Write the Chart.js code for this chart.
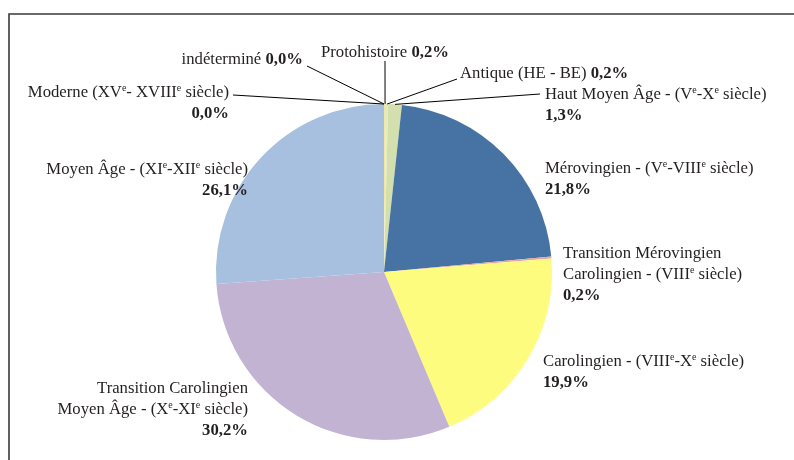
<!DOCTYPE html>
<html>
<head>
<meta charset="utf-8">
<script src="https://cdn.jsdelivr.net/npm/chart.js@4"></script>
<style>
  html, body { margin: 0; padding: 0; background: #fff; }
  #wrap { width: 794px; height: 460px; position: relative; }
</style>
</head>
<body>
<div id="wrap"><canvas id="pie"></canvas></div>
<script>
// {e} marks a superscript "e"
const categories = [
    'Protohistoire',
    'Antique (HE - BE)',
    'Haut Moyen Âge - (V{e}-X{e} siècle)',
    'Mérovingien - (V{e}-VIII{e} siècle)',
    'Transition Mérovingien Carolingien - (VIII{e} siècle)',
    'Carolingien - (VIII{e}-X{e} siècle)',
    'Transition Carolingien Moyen Âge - (X{e}-XI{e} siècle)',
    'Moyen Âge - (XI{e}-XII{e} siècle)',
    'Moderne (XV{e}- XVIII{e} siècle)',
    'indéterminé'
];
const values = [0.2, 0.2, 1.3, 21.8, 0.2, 19.9, 30.2, 26.1, 0.0, 0.0];
const colors = ['#f3e6a2', '#e2ebc4', '#d3dfac', '#4673a3', '#e8a4a4',
                '#fefc7f', '#c2b3d3', '#a7c0df', '#8aa8cc', '#d9d9d9'];

// label placement: anchor x, first baseline y, alignment, how the name wraps,
// whether the value sits on the same line, and where the leader line starts
const labelLayout = [
    { x: 385, y: 57,  align: 'center', lines: 1, inline: true,  lead: [385, 61] },
    { x: 460, y: 78,  align: 'left',   lines: 1, inline: true,  lead: [457, 79] },
    { x: 545, y: 99,  align: 'left',   lines: 1, inline: false, lead: [540, 94] },
    { x: 545, y: 173, align: 'left',   lines: 1, inline: false },
    { x: 563, y: 258, align: 'left',   lines: 2, inline: false },
    { x: 543, y: 366, align: 'left',   lines: 1, inline: false },
    { x: 248, y: 393, align: 'right',  lines: 2, inline: false },
    { x: 248, y: 174, align: 'right',  lines: 1, inline: false },
    { x: 229, y: 97,  align: 'right',  lines: 1, inline: false, lead: [233, 95] },
    { x: 303, y: 64,  align: 'right',  lines: 1, inline: true,  lead: [307, 66] }
];

const FONT = '"Liberation Serif", "DejaVu Serif", serif';
const SIZE = 16.7;
const LINE = 21;

function splitName(name, n) {
    if (n === 1) return [name];
    // break after the second word
    const words = name.split(' ');
    return [words.slice(0, 2).join(' '), words.slice(2).join(' ')];
}

function segments(str, bold) {
    const out = [];
    str.split(/(\{e\})/).forEach(part => {
        if (!part) return;
        if (part === '{e}') out.push({ t: 'e', sup: true, bold });
        else out.push({ t: part, sup: false, bold });
    });
    return out;
}

function fontFor(seg) {
    const size = seg.sup ? Math.round(SIZE * 0.62) : SIZE;
    return (seg.bold ? 'bold ' : '') + size + 'px ' + FONT;
}

function drawRich(ctx, segs, x, y, align) {
    let total = 0;
    segs.forEach(s => { ctx.font = fontFor(s); s.w = ctx.measureText(s.t).width; total += s.w; });
    let cx = align === 'left' ? x : align === 'right' ? x - total : x - total / 2;
    segs.forEach(s => {
        ctx.font = fontFor(s);
        ctx.fillText(s.t, cx, s.sup ? y - SIZE * 0.38 : y);
        cx += s.w;
    });
}

const fmt = v => v.toFixed(1).replace('.', ',') + '%';

const framePlugin = {
    id: 'frame',
    beforeDraw(chart) {
        const ctx = chart.ctx;
        ctx.save();
        ctx.strokeStyle = '#3a3a3a';
        ctx.lineWidth = 1.6;
        ctx.beginPath();
        ctx.moveTo(9, 460);
        ctx.lineTo(9, 14);
        ctx.lineTo(794, 14);
        ctx.stroke();
        ctx.restore();
    }
};

const labelPlugin = {
    id: 'pieLabels',
    afterDraw(chart) {
        const ctx = chart.ctx;
        const arcs = chart.getDatasetMeta(0).data;
        ctx.save();
        ctx.fillStyle = '#231f20';
        ctx.textBaseline = 'alphabetic';
        labelLayout.forEach((lay, i) => {
            const a = arcs[i].getProps(['x', 'y', 'startAngle', 'endAngle', 'outerRadius']);
            if (lay.lead) {
                const mid = (a.startAngle + a.endAngle) / 2;
                ctx.strokeStyle = '#000';
                ctx.lineWidth = 1;
                ctx.beginPath();
                ctx.moveTo(lay.lead[0], lay.lead[1]);
                ctx.lineTo(a.x + Math.cos(mid) * a.outerRadius, a.y + Math.sin(mid) * a.outerRadius);
                ctx.stroke();
            }
            const names = splitName(categories[i], lay.lines);
            let y = lay.y;
            names.forEach((nm, k) => {
                let segs = segments(nm, false);
                if (lay.inline && k === names.length - 1) {
                    segs = segs.concat([{ t: ' ', sup: false, bold: false }, { t: fmt(values[i]), sup: false, bold: true }]);
                }
                drawRich(ctx, segs, lay.x, y, lay.align);
                y += LINE;
            });
            if (!lay.inline) {
                drawRich(ctx, [{ t: fmt(values[i]), sup: false, bold: true }], lay.x, y, lay.align);
            }
        });
        ctx.restore();
    }
};

new Chart(document.getElementById('pie'), {
    type: 'pie',
    data: {
        labels: categories,
        datasets: [{
            data: values,
            backgroundColor: colors,
            borderWidth: 0
        }]
    },
    options: {
        responsive: true,
        maintainAspectRatio: false,
        animation: false,
        layout: { padding: { left: 216, right: 242, top: 104, bottom: 20 } },
        plugins: {
            legend: { display: false },
            tooltip: { enabled: false }
        }
    },
    plugins: [framePlugin, labelPlugin]
});
</script>
</body>
</html>
